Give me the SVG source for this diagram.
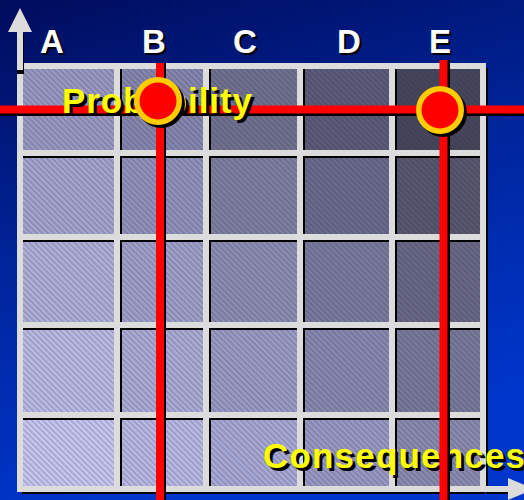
<svg xmlns="http://www.w3.org/2000/svg" width="524" height="500" viewBox="0 0 524 500">
<defs>
<linearGradient id="bg" x1="0" y1="0" x2="0.3" y2="1">
<stop offset="0" stop-color="#000c5c"/>
<stop offset="0.5" stop-color="#00259c"/>
<stop offset="1" stop-color="#0036cc"/>
</linearGradient>
<pattern id="hatch" width="4" height="4" patternUnits="userSpaceOnUse" patternTransform="rotate(-45)">
<line x1="1" y1="0" x2="1" y2="4" stroke="#262650" stroke-opacity="0.3" stroke-width="1.3"/>
</pattern>
<style>
.grid{stroke:#dcdcdc;stroke-width:6;fill:none}
.gsh{stroke:#000;stroke-width:6;fill:none}
.red{stroke:#ff0000;stroke-width:8}
.rsh{stroke:#000;stroke-width:8}
.col{font-family:"Liberation Sans",Arial,sans-serif;font-weight:bold;font-size:33px;text-anchor:middle}
.lbl{font-family:"Liberation Sans",Arial,sans-serif;font-weight:bold;font-size:35px}
</style>
</defs>
<rect width="524" height="500" fill="url(#bg)"/>
<g id="cells">
<rect x="20" y="66" width="97" height="87" fill="#9a9ac2"/>
<rect x="117" y="66" width="89" height="87" fill="#8888ae"/>
<rect x="206" y="66" width="94" height="87" fill="#72728f"/>
<rect x="300" y="66" width="92" height="87" fill="#5c5c78"/>
<rect x="392" y="66" width="91" height="87" fill="#46465a"/>
<rect x="20" y="153" width="97" height="84" fill="#a6a6ce"/>
<rect x="117" y="153" width="89" height="84" fill="#9494bb"/>
<rect x="206" y="153" width="94" height="84" fill="#8080a1"/>
<rect x="300" y="153" width="92" height="84" fill="#6b6b8b"/>
<rect x="392" y="153" width="91" height="84" fill="#57576f"/>
<rect x="20" y="237" width="97" height="88" fill="#b1b1d9"/>
<rect x="117" y="237" width="89" height="88" fill="#a1a1c9"/>
<rect x="206" y="237" width="94" height="88" fill="#8e8eb2"/>
<rect x="300" y="237" width="92" height="88" fill="#7b7b9e"/>
<rect x="392" y="237" width="91" height="88" fill="#696985"/>
<rect x="20" y="325" width="97" height="90" fill="#bcbce4"/>
<rect x="117" y="325" width="89" height="90" fill="#adadd6"/>
<rect x="206" y="325" width="94" height="90" fill="#9c9cc4"/>
<rect x="300" y="325" width="92" height="90" fill="#8a8ab1"/>
<rect x="392" y="325" width="91" height="90" fill="#7a7a9a"/>
<rect x="20" y="415" width="97" height="75" fill="#c8c8f0"/>
<rect x="117" y="415" width="89" height="75" fill="#babae4"/>
<rect x="206" y="415" width="94" height="75" fill="#aaaad6"/>
<rect x="300" y="415" width="92" height="75" fill="#9a9ac4"/>
<rect x="392" y="415" width="91" height="75" fill="#8c8cb0"/>
<rect x="20" y="66" width="463" height="424" fill="url(#hatch)"/>
</g>
<g id="gridlines">
<g class="gsh" transform="translate(2,2)">
<path d="M117 66V489M206 66V489M300 66V489M392 66V489M483 66V489M20 153H483M20 237H483M20 325H483M20 415H483M20 489H483"/>
</g>
<path class="grid" d="M117 66V489M206 66V489M300 66V489M392 66V489M20 153H483M20 237H483M20 325H483M20 415H483"/>
<rect class="grid" x="20" y="66" width="463" height="423"/>
</g>
<g id="axes">
<path d="M22 34V72H17" stroke="#000" stroke-width="4" fill="none"/>
<path d="M20 70V30" stroke="#dcdcdc" stroke-width="6"/>
<polygon points="20,8 32,32 8,32" fill="#dcdcdc"/>
<path d="M486 491H510" stroke="#000" stroke-width="6"/>
<path d="M483 489H510" stroke="#dcdcdc" stroke-width="6"/>
<polygon points="508,478 534,489 508,500" fill="#dcdcdc"/>
</g>
<g id="column-labels">
<g fill="#000" transform="translate(2,2)">
<text class="col" x="52" y="53">A</text>
<text class="col" x="154" y="53">B</text>
<text class="col" x="245" y="53">C</text>
<text class="col" x="349" y="53">D</text>
<text class="col" x="440" y="53">E</text>
</g>
<g fill="#ffffff">
<text class="col" x="52" y="53">A</text>
<text class="col" x="154" y="53">B</text>
<text class="col" x="245" y="53">C</text>
<text class="col" x="349" y="53">D</text>
<text class="col" x="440" y="53">E</text>
</g>
</g>
<g id="probability-line">
<path class="rsh" d="M0 112H524"/>
<path class="red" d="M0 109.5H524"/>
</g>
<g id="axis-labels">
<text class="lbl" x="65" y="116" fill="#000" textLength="190">Probability</text>
<text class="lbl" x="62" y="113" fill="#ffff00" textLength="190">Probability</text>
<text class="lbl" x="266" y="471" fill="#000" textLength="262">Consequences</text>
<text class="lbl" x="263" y="468" fill="#ffff00" textLength="262">Consequences</text>
</g>
<g id="consequence-lines">
<path class="rsh" d="M162 63V500M446 60V500"/>
<path class="red" d="M160 63V500M443.5 60V500"/>
</g>
<g id="point-B">
<circle cx="161" cy="104" r="24" fill="#000"/>
<circle cx="158" cy="101" r="24" fill="#ffcc00"/>
<circle cx="158" cy="101" r="18.5" fill="#ff0000"/>
</g>
<g id="point-E">
<circle cx="443" cy="113" r="24" fill="#000"/>
<circle cx="440" cy="110" r="24" fill="#ffcc00"/>
<circle cx="440" cy="110" r="18.5" fill="#ff0000"/>
</g>
</svg>
